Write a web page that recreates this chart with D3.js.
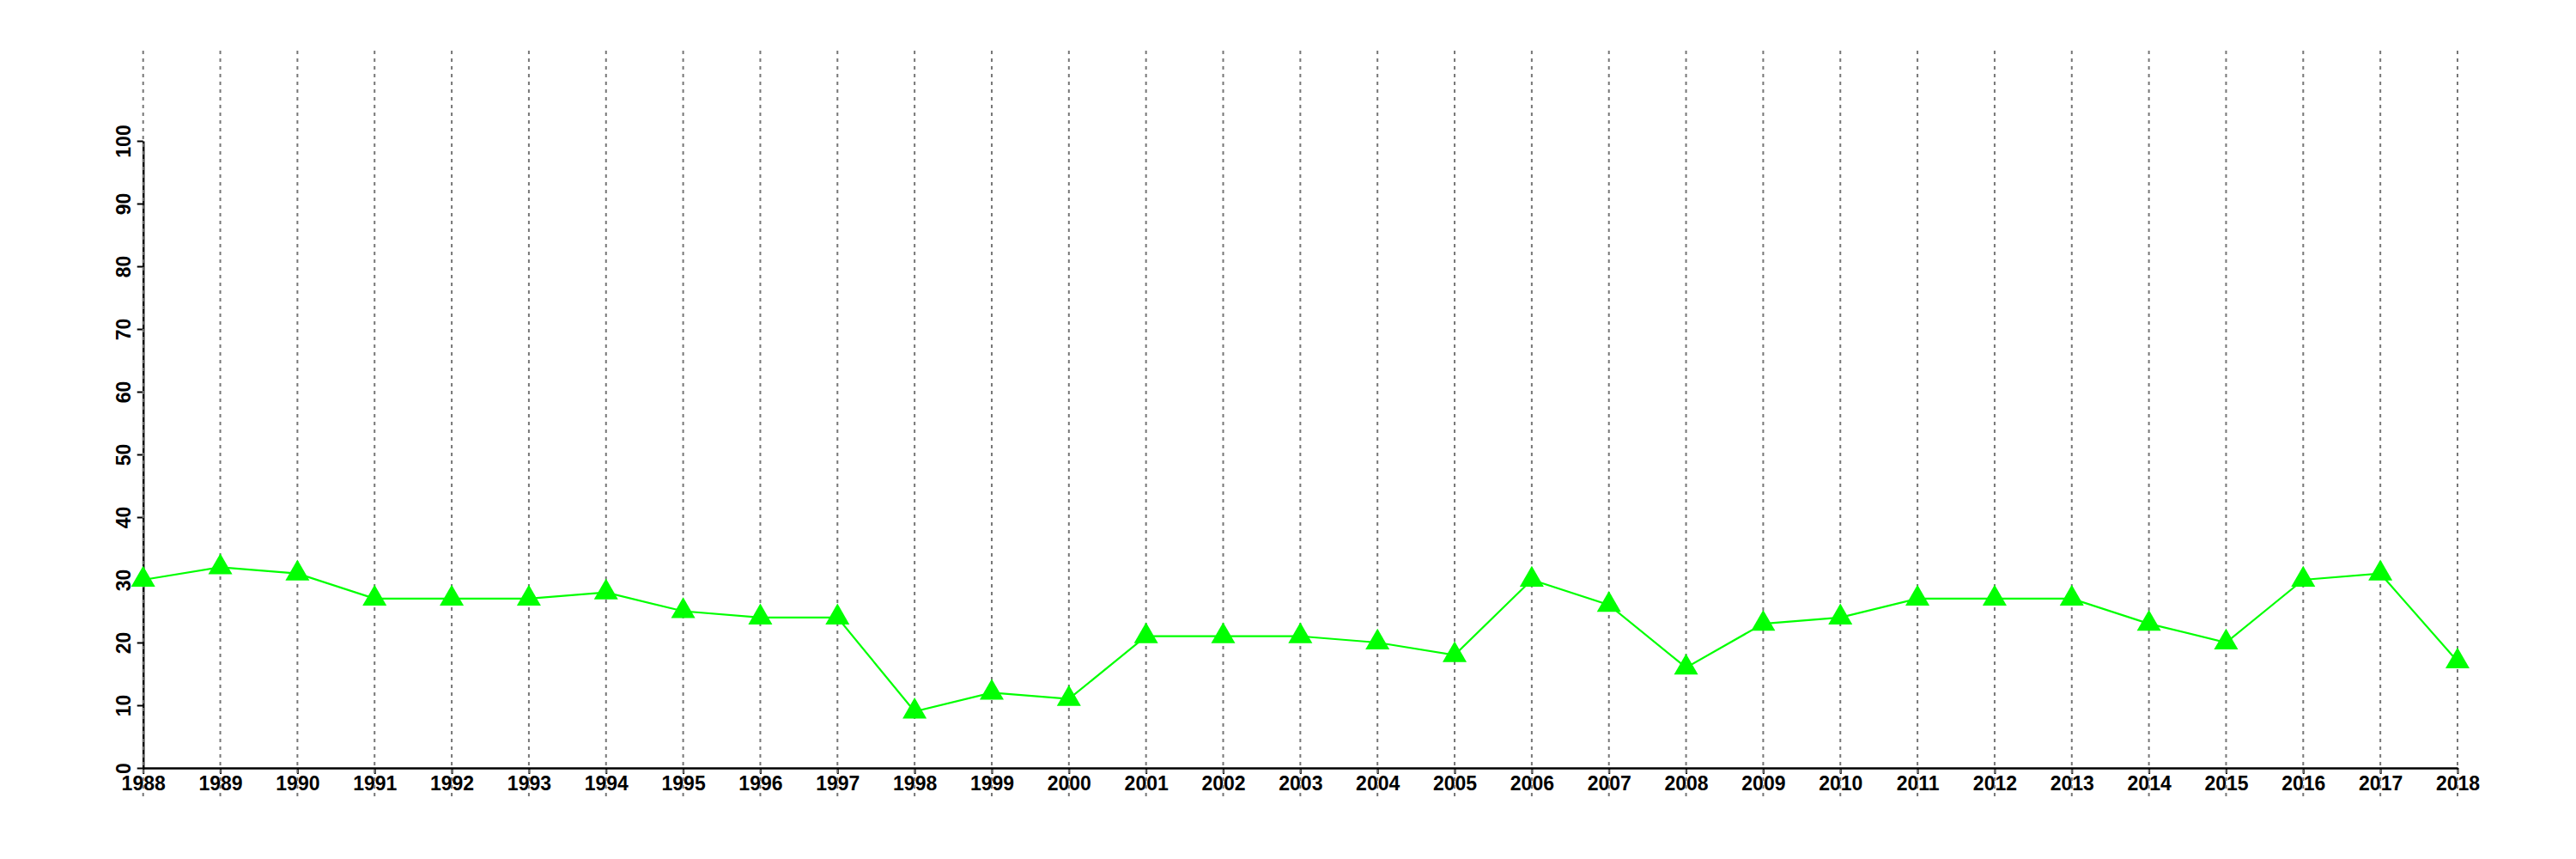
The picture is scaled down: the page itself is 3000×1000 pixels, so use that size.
<!DOCTYPE html>
<html><head><meta charset="utf-8">
<script src="https://cdn.jsdelivr.net/npm/d3@7"></script>
<style>body{margin:0;background:#fff}svg{display:block}</style>
</head><body>
<script>
const years = d3.range(1988, 2019);
const values = [30,32,31,27,27,27,28,25,24,24,9,12,11,21,21,21,20,18,30,26,16,23,24,27,27,27,23,20,30,31,17];
const yTicks = [0,10,20,30,40,50,60,70,80,90,100];

const W = 3000, H = 1000;
const svg = d3.select("body").append("svg").attr("width", W).attr("height", H);
const x = d3.scaleLinear().domain([1988, 2018]).range([166.7, 2862]);
const y = d3.scaleLinear().domain([0, 100]).range([894, 164]);
const font = "'Liberation Sans', Arial, Helvetica, sans-serif";

// x axis
const gx = svg.append("g").attr("transform", `translate(0,${y(0)})`)
  .call(d3.axisBottom(x).tickValues(years).tickFormat(d3.format("d")).tickSize(7).tickSizeOuter(0).tickPadding(3));
gx.select(".domain").attr("stroke", "#000").attr("stroke-width", 2.5);
gx.selectAll(".tick line").attr("stroke", "#000").attr("stroke-width", 2);
gx.selectAll("text").attr("font-family", font).attr("font-weight", "bold").attr("font-size", 23).attr("fill", "#000");

// y axis
const gy = svg.append("g").attr("transform", `translate(${x(1988)},0)`)
  .call(d3.axisLeft(y).tickValues(yTicks).tickSize(7).tickSizeOuter(0));
gy.select(".domain").attr("stroke", "#000").attr("stroke-width", 2.5);
gy.selectAll(".tick line").attr("stroke", "#000").attr("stroke-width", 2);
gy.selectAll("text")
  .attr("font-family", font).attr("font-weight", "bold").attr("font-size", 23).attr("fill", "#000")
  .attr("x", null).attr("dy", null).attr("text-anchor", "middle")
  .attr("transform", "translate(-15,0) rotate(-90)");

// grid lines
svg.append("g").selectAll("line").data(years).join("line")
  .attr("x1", d => x(d)).attr("x2", d => x(d))
  .attr("y1", 59).attr("y2", 927)
  .attr("stroke", "#777").attr("stroke-width", 2).attr("stroke-dasharray", "4,5");

// line
const line = d3.line().x((d, i) => x(years[i])).y(d => y(d));
svg.append("path").datum(values).attr("d", line)
  .attr("fill", "none").attr("stroke", "#00ff00").attr("stroke-width", 2.2);

// markers
svg.append("g").selectAll("path").data(values).join("path")
  .attr("transform", (d, i) => `translate(${x(years[i])},${y(d)})`)
  .attr("d", d3.symbol(d3.symbolTriangle, 340))
  .attr("fill", "#00ff00");
</script>
</body></html>
